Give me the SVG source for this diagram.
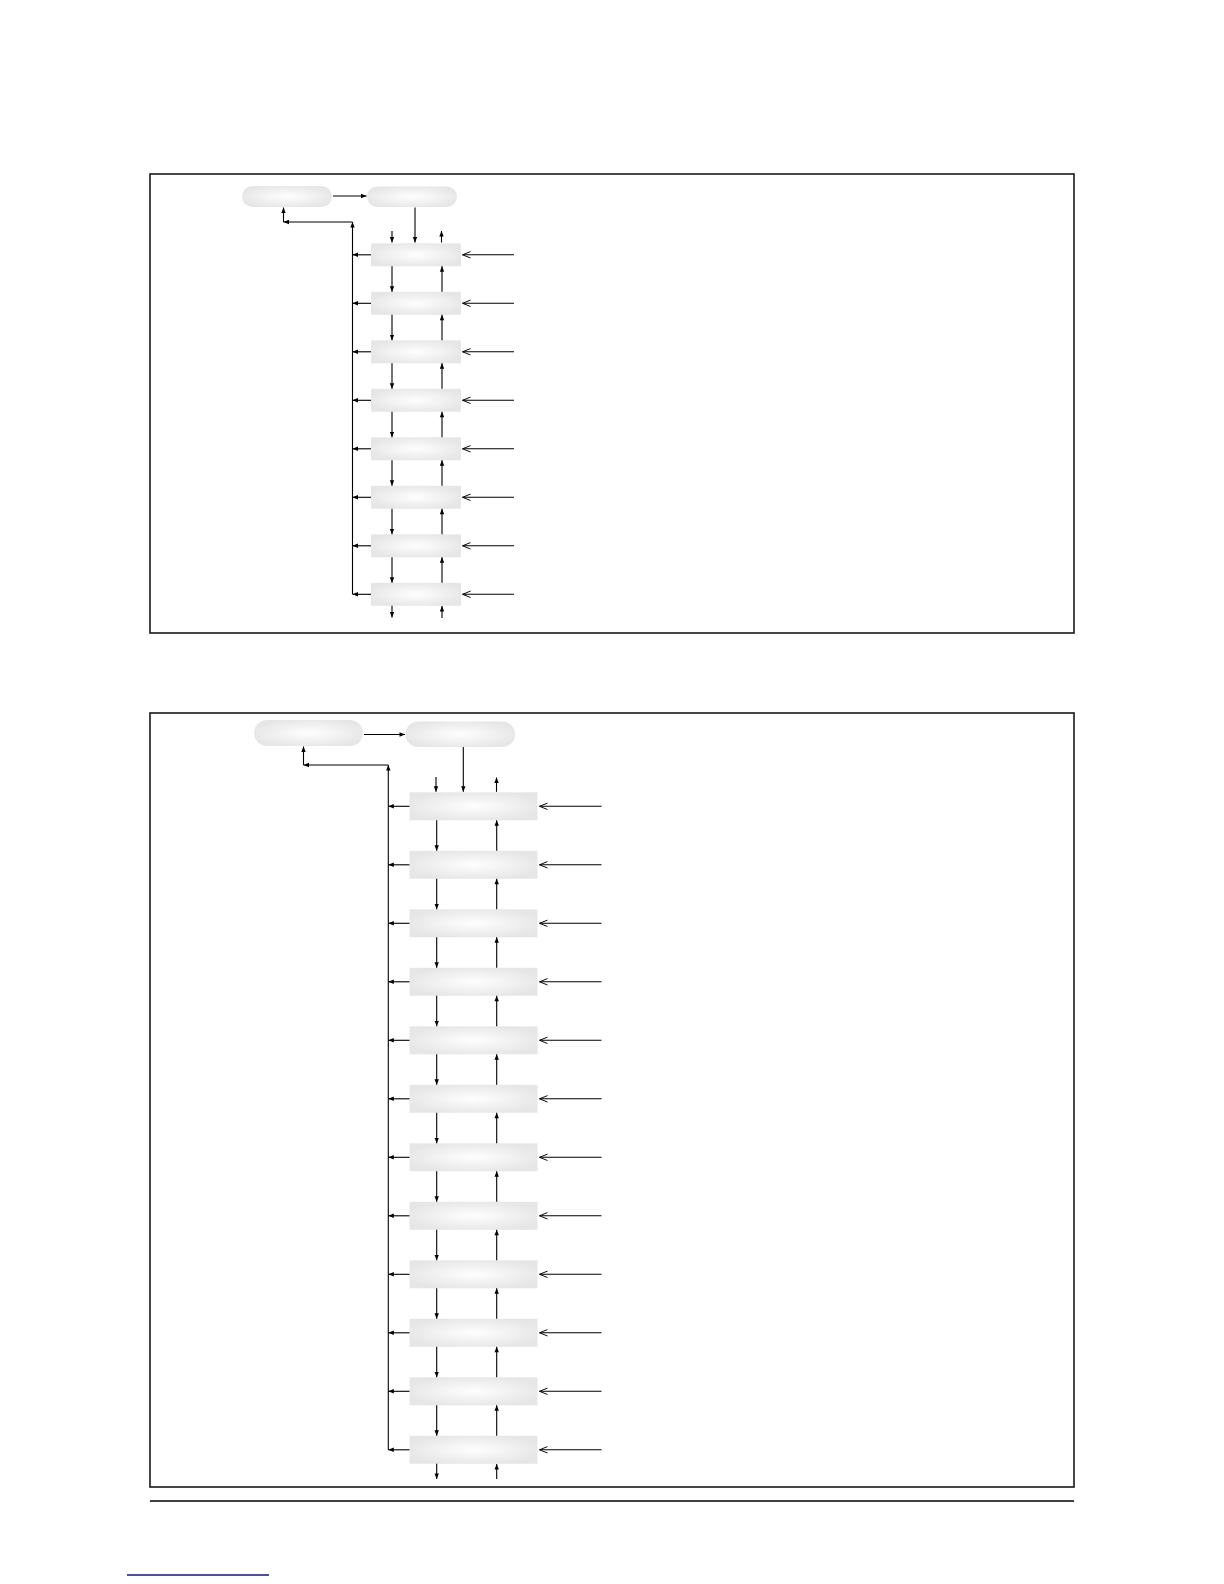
<svg xmlns="http://www.w3.org/2000/svg" width="1224" height="1584" viewBox="0 0 1224 1584">
<defs>
<radialGradient id="g" cx="50%" cy="50%" r="55%">
<stop offset="0" stop-color="#fefefe"/>
<stop offset="1" stop-color="#e6e6e6"/>
</radialGradient>
<marker id="ah" viewBox="0 0 10 10" refX="10" refY="5" markerWidth="6" markerHeight="5.5" orient="auto" markerUnits="userSpaceOnUse">
<path d="M0,1 L10,5 L0,9 z" fill="#000"/>
</marker>
<marker id="oa" viewBox="0 0 12 10" refX="11" refY="5" markerWidth="10" markerHeight="8" orient="auto" markerUnits="userSpaceOnUse">
<path d="M1,1 L11,5 L1,9" fill="none" stroke="#000" stroke-width="1.2"/>
</marker>
</defs>
<style>
.frame{fill:#fff;stroke:#1a1a1a;stroke-width:1.6}
.node{fill:url(#g);stroke:none}
.c{fill:none;stroke:#000;stroke-width:1.1;marker-end:url(#ah)}
.in{fill:none;stroke:#000;stroke-width:1.1;marker-end:url(#oa)}
</style>
<rect width="1224" height="1584" fill="#fff"/>
<rect class="frame" x="150" y="174" width="924" height="459"/>
<rect class="frame" x="150" y="713" width="924" height="774"/>
<line x1="150" y1="1501" x2="1074" y2="1501" stroke="#000" stroke-width="1.3"/>
<line x1="127" y1="1575" x2="269" y2="1575" stroke="#14147a" stroke-width="1.4"/>

<g id="top-nodes">
<g id="t-oval1"><rect class="node" x="242" y="186" width="90" height="21" rx="10.5"/></g>
<g id="t-oval2"><rect class="node" x="367" y="186.5" width="90" height="20.5" rx="10"/></g>
<g id="t-box1"><rect class="node" x="371" y="243.3" width="90" height="23"/></g>
<g id="t-box2"><rect class="node" x="371" y="291.8" width="90" height="23"/></g>
<g id="t-box3"><rect class="node" x="371" y="340.3" width="90" height="23"/></g>
<g id="t-box4"><rect class="node" x="371" y="388.8" width="90" height="23"/></g>
<g id="t-box5"><rect class="node" x="371" y="437.3" width="90" height="23"/></g>
<g id="t-box6"><rect class="node" x="371" y="485.8" width="90" height="23"/></g>
<g id="t-box7"><rect class="node" x="371" y="534.3" width="90" height="23"/></g>
<g id="t-box8"><rect class="node" x="371" y="582.8" width="90" height="23"/></g>
</g>

<g id="bottom-nodes">
<g id="b-oval1"><rect class="node" x="254" y="720" width="109" height="26" rx="13"/></g>
<g id="b-oval2"><rect class="node" x="405.5" y="721.5" width="109.5" height="25.5" rx="12.5"/></g>
<g id="b-box1"><rect class="node" x="409.5" y="792.3" width="128" height="28"/></g>
<g id="b-box2"><rect class="node" x="409.5" y="850.8" width="128" height="28"/></g>
<g id="b-box3"><rect class="node" x="409.5" y="909.3" width="128" height="28"/></g>
<g id="b-box4"><rect class="node" x="409.5" y="967.8" width="128" height="28"/></g>
<g id="b-box5"><rect class="node" x="409.5" y="1026.3" width="128" height="28"/></g>
<g id="b-box6"><rect class="node" x="409.5" y="1084.8" width="128" height="28"/></g>
<g id="b-box7"><rect class="node" x="409.5" y="1143.3" width="128" height="28"/></g>
<g id="b-box8"><rect class="node" x="409.5" y="1201.8" width="128" height="28"/></g>
<g id="b-box9"><rect class="node" x="409.5" y="1260.3" width="128" height="28"/></g>
<g id="b-box10"><rect class="node" x="409.5" y="1318.8" width="128" height="28"/></g>
<g id="b-box11"><rect class="node" x="409.5" y="1377.3" width="128" height="28"/></g>
<g id="b-box12"><rect class="node" x="409.5" y="1435.8" width="128" height="28"/></g>
</g>

<g id="connectors-top">
<path class="c" d="M333,196 H366.5"/>
<path class="c" d="M415,207.5 V242.5"/>
<path class="c" d="M392,231 V242.5"/>
<path class="c" d="M441.5,242.5 V231"/>
<path class="c" d="M352.5,594.3 V222"/>
<path class="c" d="M352.5,222 H283.5"/>
<path class="c" d="M283.5,222 V207.5"/>
<path class="c" d="M371,254.8 H352.5"/>
<path class="c" d="M371,303.3 H352.5"/>
<path class="c" d="M371,351.8 H352.5"/>
<path class="c" d="M371,400.3 H352.5"/>
<path class="c" d="M371,448.8 H352.5"/>
<path class="c" d="M371,497.3 H352.5"/>
<path class="c" d="M371,545.8 H352.5"/>
<path class="c" d="M371,594.3 H352.5"/>
<path class="in" d="M514,254.8 H462.5"/>
<path class="in" d="M514,303.3 H462.5"/>
<path class="in" d="M514,351.8 H462.5"/>
<path class="in" d="M514,400.3 H462.5"/>
<path class="in" d="M514,448.8 H462.5"/>
<path class="in" d="M514,497.3 H462.5"/>
<path class="in" d="M514,545.8 H462.5"/>
<path class="in" d="M514,594.3 H462.5"/>
<path class="c" d="M392,266.3 V291.8"/><path class="c" d="M442,291.8 V266.3"/>
<path class="c" d="M392,314.8 V340.3"/><path class="c" d="M442,340.3 V314.8"/>
<path class="c" d="M392,363.3 V388.8"/><path class="c" d="M442,388.8 V363.3"/>
<path class="c" d="M392,411.8 V437.3"/><path class="c" d="M442,437.3 V411.8"/>
<path class="c" d="M392,460.3 V485.8"/><path class="c" d="M442,485.8 V460.3"/>
<path class="c" d="M392,508.8 V534.3"/><path class="c" d="M442,534.3 V508.8"/>
<path class="c" d="M392,557.3 V582.8"/><path class="c" d="M442,582.8 V557.3"/>
<path class="c" d="M392,605.8 V617.5"/><path class="c" d="M442,618 V606"/>
</g>

<g id="connectors-bottom">
<path class="c" d="M364,734.5 H405"/>
<path class="c" d="M463.3,747 V791.8"/>
<path class="c" d="M436,777 V791.8"/>
<path class="c" d="M496.5,791.8 V777.5"/>
<path class="c" d="M388.3,1449.8 V765"/>
<path class="c" d="M388.3,765 H303.5"/>
<path class="c" d="M303.5,765 V746.5"/>
<path class="c" d="M409.5,806.3 H388.3"/>
<path class="c" d="M409.5,864.8 H388.3"/>
<path class="c" d="M409.5,923.3 H388.3"/>
<path class="c" d="M409.5,981.8 H388.3"/>
<path class="c" d="M409.5,1040.3 H388.3"/>
<path class="c" d="M409.5,1098.8 H388.3"/>
<path class="c" d="M409.5,1157.3 H388.3"/>
<path class="c" d="M409.5,1215.8 H388.3"/>
<path class="c" d="M409.5,1274.3 H388.3"/>
<path class="c" d="M409.5,1332.8 H388.3"/>
<path class="c" d="M409.5,1391.3 H388.3"/>
<path class="c" d="M409.5,1449.8 H388.3"/>
<path class="in" d="M601.5,806.3 H539.5"/>
<path class="in" d="M601.5,864.8 H539.5"/>
<path class="in" d="M601.5,923.3 H539.5"/>
<path class="in" d="M601.5,981.8 H539.5"/>
<path class="in" d="M601.5,1040.3 H539.5"/>
<path class="in" d="M601.5,1098.8 H539.5"/>
<path class="in" d="M601.5,1157.3 H539.5"/>
<path class="in" d="M601.5,1215.8 H539.5"/>
<path class="in" d="M601.5,1274.3 H539.5"/>
<path class="in" d="M601.5,1332.8 H539.5"/>
<path class="in" d="M601.5,1391.3 H539.5"/>
<path class="in" d="M601.5,1449.8 H539.5"/>
<path class="c" d="M436.7,820.3 V850.8"/><path class="c" d="M496.7,850.8 V820.3"/>
<path class="c" d="M436.7,878.8 V909.3"/><path class="c" d="M496.7,909.3 V878.8"/>
<path class="c" d="M436.7,937.3 V967.8"/><path class="c" d="M496.7,967.8 V937.3"/>
<path class="c" d="M436.7,995.8 V1026.3"/><path class="c" d="M496.7,1026.3 V995.8"/>
<path class="c" d="M436.7,1054.3 V1084.8"/><path class="c" d="M496.7,1084.8 V1054.3"/>
<path class="c" d="M436.7,1112.8 V1143.3"/><path class="c" d="M496.7,1143.3 V1112.8"/>
<path class="c" d="M436.7,1171.3 V1201.8"/><path class="c" d="M496.7,1201.8 V1171.3"/>
<path class="c" d="M436.7,1229.8 V1260.3"/><path class="c" d="M496.7,1260.3 V1229.8"/>
<path class="c" d="M436.7,1288.3 V1318.8"/><path class="c" d="M496.7,1318.8 V1288.3"/>
<path class="c" d="M436.7,1346.8 V1377.3"/><path class="c" d="M496.7,1377.3 V1346.8"/>
<path class="c" d="M436.7,1405.3 V1435.8"/><path class="c" d="M496.7,1435.8 V1405.3"/>
<path class="c" d="M436.7,1463.8 V1479"/><path class="c" d="M496.7,1479 V1464"/>
</g>
</svg>
